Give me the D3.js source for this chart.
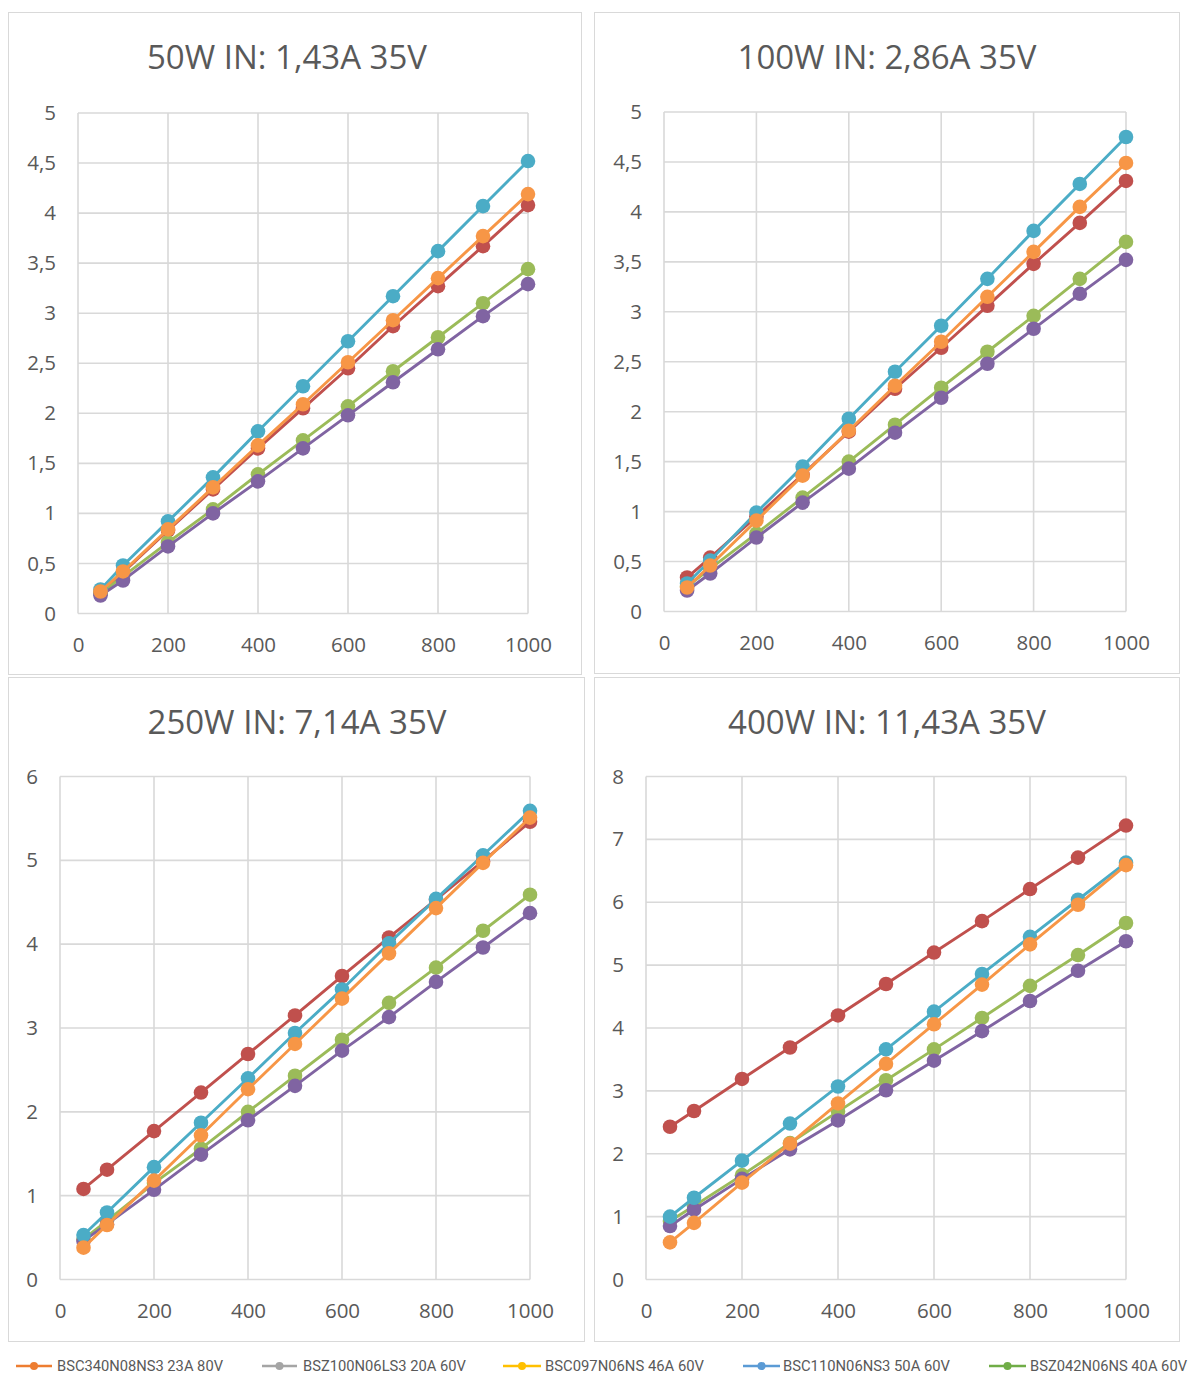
<!DOCTYPE html>
<html>
<head>
<meta charset="utf-8">
<script src="https://cdn.jsdelivr.net/npm/d3@7"></script>
<style>
  html, body { margin: 0; padding: 0; background: #fff; }
  svg { display: block; }
</style>
</head>
<body>
<svg id="chart" width="1188" height="1374"></svg>
<script>
// ---------- DATA ----------
const xValues = [50, 100, 200, 300, 400, 500, 600, 700, 800, 900, 1000];

const panelTitles = ["50W IN: 1,43A 35V", "100W IN: 2,86A 35V", "250W IN: 7,14A 35V", "400W IN: 11,43A 35V"];
const panelYMax = [5, 5, 6, 8];
const panelYStep = [0.5, 0.5, 1, 1];
const xTicks = [0, 200, 400, 600, 800, 1000];

// series drawn in this order (last on top)
const seriesNames = ["red", "green", "purple", "cyan", "orange"];
const seriesColors = ["#C0504D", "#9BBB59", "#8064A2", "#4BACC6", "#F79646"];

// panel 1: 50W
const p1Red    = [0.20, 0.41, 0.83, 1.24, 1.65, 2.05, 2.45, 2.87, 3.27, 3.67, 4.08];
const p1Green  = [0.20, 0.37, 0.71, 1.04, 1.39, 1.73, 2.07, 2.42, 2.76, 3.10, 3.44];
const p1Purple = [0.18, 0.33, 0.67, 1.00, 1.32, 1.65, 1.98, 2.31, 2.64, 2.97, 3.29];
const p1Cyan   = [0.24, 0.48, 0.92, 1.36, 1.82, 2.27, 2.72, 3.17, 3.62, 4.07, 4.52];
const p1Orange = [0.22, 0.42, 0.84, 1.26, 1.68, 2.09, 2.51, 2.93, 3.35, 3.77, 4.19];

// panel 2: 100W
const p2Red    = [0.34, 0.54, 0.95, 1.37, 1.80, 2.23, 2.64, 3.06, 3.48, 3.89, 4.31];
const p2Green  = [0.25, 0.43, 0.78, 1.14, 1.50, 1.87, 2.24, 2.60, 2.96, 3.33, 3.70];
const p2Purple = [0.21, 0.38, 0.74, 1.09, 1.43, 1.79, 2.14, 2.48, 2.83, 3.18, 3.52];
const p2Cyan   = [0.28, 0.51, 0.99, 1.45, 1.93, 2.40, 2.86, 3.33, 3.81, 4.28, 4.75];
const p2Orange = [0.24, 0.46, 0.91, 1.36, 1.81, 2.26, 2.70, 3.15, 3.60, 4.05, 4.49];

// panel 3: 250W
const p3Red    = [1.08, 1.31, 1.77, 2.23, 2.69, 3.15, 3.62, 4.08, 4.53, 4.99, 5.46];
const p3Green  = [0.48, 0.70, 1.15, 1.56, 2.00, 2.43, 2.86, 3.30, 3.72, 4.16, 4.59];
const p3Purple = [0.46, 0.66, 1.07, 1.49, 1.90, 2.31, 2.73, 3.13, 3.55, 3.96, 4.37];
const p3Cyan   = [0.53, 0.80, 1.34, 1.87, 2.40, 2.94, 3.46, 4.01, 4.54, 5.06, 5.59];
const p3Orange = [0.38, 0.65, 1.18, 1.72, 2.27, 2.81, 3.35, 3.89, 4.43, 4.97, 5.51];

// panel 4: 400W
const p4Red    = [2.43, 2.68, 3.19, 3.69, 4.20, 4.70, 5.20, 5.70, 6.21, 6.71, 7.22];
const p4Green  = [0.93, 1.17, 1.66, 2.17, 2.67, 3.17, 3.66, 4.16, 4.67, 5.16, 5.67];
const p4Purple = [0.85, 1.11, 1.60, 2.07, 2.53, 3.01, 3.48, 3.95, 4.43, 4.91, 5.38];
const p4Cyan   = [1.00, 1.30, 1.89, 2.48, 3.07, 3.66, 4.26, 4.86, 5.45, 6.04, 6.63];
const p4Orange = [0.59, 0.90, 1.54, 2.16, 2.80, 3.43, 4.06, 4.69, 5.33, 5.96, 6.59];

const panelSeries = [
  [p1Red, p1Green, p1Purple, p1Cyan, p1Orange],
  [p2Red, p2Green, p2Purple, p2Cyan, p2Orange],
  [p3Red, p3Green, p3Purple, p3Cyan, p3Orange],
  [p4Red, p4Green, p4Purple, p4Cyan, p4Orange]
];

const legendNames = ["BSC340N08NS3 23A 80V", "BSZ100N06LS3 20A 60V", "BSC097N06NS 46A 60V", "BSC110N06NS3 50A 60V", "BSZ042N06NS 40A 60V"];
const legendColors = ["#ED7D31", "#A5A5A5", "#FFC000", "#5B9BD5", "#70AD47"];

// ---------- LAYOUT ----------
const layout = [
  { box: [8.5, 12.5, 573, 662], plot: [78, 113, 528, 613.5], title: [287, 69] },
  { box: [594.5, 12.5, 585, 661], plot: [664, 112, 1126, 611.5], title: [887, 69] },
  { box: [8.5, 677.5, 576, 664], plot: [60, 776.5, 530, 1279.5], title: [297, 734] },
  { box: [594.5, 677.5, 585, 664], plot: [646, 776.5, 1126, 1279.5], title: [887, 734] }
];

const svg = d3.select("#chart");
const FONT = "'Open Sans', 'Noto Sans', 'DejaVu Sans', sans-serif";
const fmt = v => String(v).replace(".", ",");

layout.forEach((L, i) => {
  const g = svg.append("g");
  g.append("rect")
    .attr("x", L.box[0]).attr("y", L.box[1])
    .attr("width", L.box[2]).attr("height", L.box[3])
    .attr("fill", "#fff").attr("stroke", "#d9d9d9").attr("stroke-width", 1);

  const [x0, y0, x1, y1] = L.plot;
  const xs = d3.scaleLinear().domain([0, 1000]).range([x0, x1]);
  const ys = d3.scaleLinear().domain([0, panelYMax[i]]).range([y1, y0]);
  const yTicks = d3.range(0, panelYMax[i] + 1e-9, panelYStep[i]).map(v => +v.toFixed(2));

  // gridlines
  g.append("g").selectAll("line.h").data(yTicks).join("line")
    .attr("x1", x0).attr("x2", x1)
    .attr("y1", d => ys(d)).attr("y2", d => ys(d))
    .attr("stroke", "#d9d9d9").attr("stroke-width", 1.6);
  g.append("g").selectAll("line.v").data(xTicks).join("line")
    .attr("x1", d => xs(d)).attr("x2", d => xs(d))
    .attr("y1", y0).attr("y2", y1)
    .attr("stroke", "#d9d9d9").attr("stroke-width", 1.6);

  // axes (labels only)
  const yAxis = d3.axisLeft(ys).tickValues(yTicks).tickFormat(fmt).tickSize(0).tickPadding(22);
  const ya = g.append("g").attr("transform", `translate(${x0},0)`).call(yAxis);
  ya.select(".domain").remove();
  ya.selectAll("text").attr("font-family", FONT).attr("font-size", 20.5).attr("fill", "#595959");

  const xAxis = d3.axisBottom(xs).tickValues(xTicks).tickFormat(d => d).tickSize(0).tickPadding(24);
  const xa = g.append("g").attr("transform", `translate(0,${y1})`).call(xAxis);
  xa.select(".domain").remove();
  xa.selectAll("text").attr("font-family", FONT).attr("font-size", 20.5).attr("fill", "#595959");

  // title
  g.append("text")
    .attr("x", L.title[0]).attr("y", L.title[1])
    .attr("text-anchor", "middle")
    .attr("font-family", FONT).attr("font-size", 33)
    .attr("fill", "#595959")
    .text(panelTitles[i]);

  // series
  const line = d3.line().x((d, j) => xs(xValues[j])).y(d => ys(d));
  panelSeries[i].forEach((vals, s) => {
    const sg = g.append("g");
    sg.append("path").datum(vals)
      .attr("d", line).attr("fill", "none")
      .attr("stroke", seriesColors[s]).attr("stroke-width", 2.9)
      .attr("stroke-linejoin", "round");
    sg.selectAll("circle").data(vals).join("circle")
      .attr("cx", (d, j) => xs(xValues[j])).attr("cy", d => ys(d))
      .attr("r", 7.3).attr("fill", seriesColors[s]);
  });
});

// ---------- LEGEND ----------
const legendPos = [
  { l0: 16, l1: 52, t: 57, w: 166 },
  { l0: 262, l1: 297, t: 303, w: 163 },
  { l0: 503, l1: 541, t: 545, w: 159 },
  { l0: 743, l1: 780, t: 783, w: 167 },
  { l0: 989, l1: 1026, t: 1030, w: 157 }
];
const lg = svg.append("g");
legendPos.forEach((p, k) => {
  const cy = 1366;
  lg.append("line").attr("x1", p.l0).attr("x2", p.l1).attr("y1", cy).attr("y2", cy)
    .attr("stroke", legendColors[k]).attr("stroke-width", 2.5);
  lg.append("circle").attr("cx", (p.l0 + p.l1) / 2).attr("cy", cy).attr("r", 4)
    .attr("fill", legendColors[k]);
  lg.append("text").attr("x", p.t).attr("y", cy + 5)
    .attr("font-family", "'Liberation Sans Narrow', 'Roboto', sans-serif")
    .attr("font-size", 14).attr("fill", "#595959")
    .attr("textLength", p.w).attr("lengthAdjust", "spacingAndGlyphs")
    .text(legendNames[k]);
});
</script>
</body>
</html>
